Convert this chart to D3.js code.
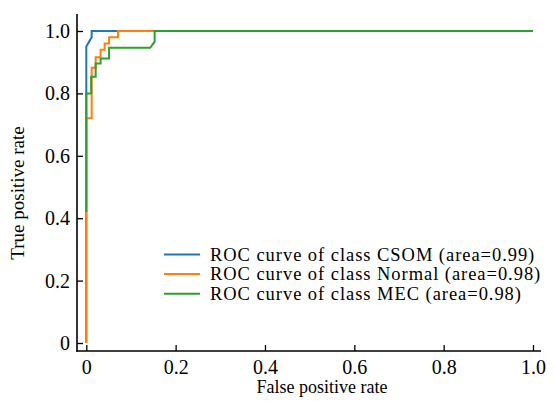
<!DOCTYPE html>
<html><head><meta charset="utf-8">
<script src="https://cdn.jsdelivr.net/npm/d3@7"></script>
<style>body{margin:0;background:#fff}svg{display:block}text{font-family:"Liberation Serif","Times New Roman",serif;fill:#000}</style>
</head><body><div id="c"></div>
<script>
const seriesNames = ["ROC curve of class CSOM (area=0.99)", "ROC curve of class Normal (area=0.98)", "ROC curve of class MEC (area=0.98)"];
const seriesColors = ["#1f77b4", "#ff7f0e", "#2ca02c"];
const csomFpr = [0, 0, 0.012, 0.012, 1];
const csomTpr = [0, 0.95, 0.98, 1, 1];
const normalFpr = [0, 0, 0.012, 0.012, 0.021, 0.021, 0.032, 0.032, 0.041, 0.041, 0.051, 0.051, 0.071, 0.071, 1];
const normalTpr = [0, 0.72, 0.72, 0.882, 0.882, 0.916, 0.916, 0.94, 0.94, 0.96, 0.96, 0.98, 0.98, 1, 1];
const mecFpr = [0, 0, 0.011, 0.011, 0.021, 0.021, 0.032, 0.032, 0.051, 0.051, 0.143, 0.153, 0.153, 1];
const mecTpr = [0.42, 0.80, 0.80, 0.853, 0.853, 0.896, 0.896, 0.912, 0.912, 0.946, 0.946, 0.966, 1, 1];
const xTicks = [0, 0.2, 0.4, 0.6, 0.8, 1.0];
const xTickLabels = ["0", "0.2", "0.4", "0.6", "0.8", "1.0"];
const yTicks = [0, 0.2, 0.4, 0.6, 0.8, 1.0];
const yTickLabels = ["0", "0.2", "0.4", "0.6", "0.8", "1.0"];

const W = 555, H = 405;
const FONT = '"Liberation Serif","Times New Roman",serif';
const svg = d3.select("#c").append("svg").attr("width", W).attr("height", H);
const x = d3.scaleLinear().domain([0, 1]).range([86.3, 533]);
const y = d3.scaleLinear().domain([0, 1]).range([343, 31]);
const axisX = 77, axisY = 351;

// curves
const series = [[csomFpr, csomTpr], [normalFpr, normalTpr], [mecFpr, mecTpr]];
const line = d3.line().x(d => x(d[0])).y(d => y(d[1]));
series.forEach((s, i) => {
  const pts = s[0].map((v, k) => [v, s[1][k]]);
  svg.append("path").attr("d", line(pts)).attr("fill", "none")
    .attr("stroke", seriesColors[i]).attr("stroke-width", 2).attr("stroke-linejoin", "miter");
});

// axes
const gx = svg.append("g").attr("transform", `translate(0,${axisY})`)
  .call(d3.axisBottom(x).tickValues(xTicks).tickFormat((d, i) => xTickLabels[i]).tickSizeInner(-6).tickSizeOuter(0).tickPadding(9));
gx.attr("font-family", FONT).attr("font-size", 20);
gx.select(".domain").remove();
gx.selectAll("line").attr("stroke", "#000").attr("stroke-width", 1.3);
const gy = svg.append("g").attr("transform", `translate(${axisX},0)`)
  .call(d3.axisLeft(y).tickValues(yTicks).tickFormat((d, i) => yTickLabels[i]).tickSizeInner(-6).tickSizeOuter(0).tickPadding(7));
gy.attr("font-family", FONT).attr("font-size", 20);
gy.select(".domain").remove();
gy.selectAll("line").attr("stroke", "#000").attr("stroke-width", 1.3);

svg.append("line").attr("x1", axisX).attr("x2", axisX).attr("y1", 14).attr("y2", axisY + 0.65).attr("stroke", "#000").attr("stroke-width", 1.6);
svg.append("line").attr("x1", axisX - 0.8).attr("x2", 541).attr("y1", axisY).attr("y2", axisY).attr("stroke", "#000").attr("stroke-width", 1.6);

// axis titles
svg.append("text").attr("x", 322).attr("y", 393).attr("text-anchor", "middle").attr("font-size", 18).attr("font-family", FONT).text("False positive rate");
svg.append("text").attr("transform", "translate(24,193) rotate(-90)").attr("text-anchor", "middle").attr("font-size", 19).attr("font-family", FONT).text("True positive rate");

// legend
const lg = svg.append("g").attr("font-family", FONT);
seriesNames.forEach((n, i) => {
  const yy = 254.5 + i * 19.6;
  lg.append("line").attr("x1", 164).attr("x2", 200).attr("y1", yy).attr("y2", yy).attr("stroke", seriesColors[i]).attr("stroke-width", 2);
  lg.append("text").attr("x", 210).attr("y", yy + 6).attr("font-size", 18.5).attr("letter-spacing", 0.95).text(n);
});
</script></body></html>
